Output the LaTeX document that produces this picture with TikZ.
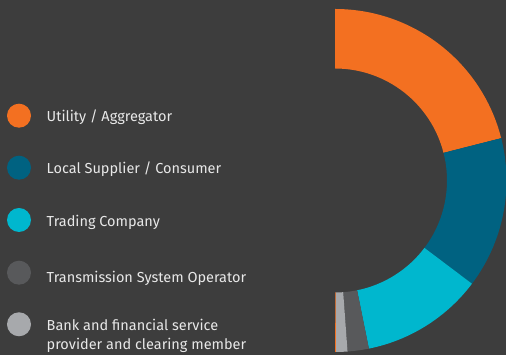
\documentclass[tikz,border=0pt]{standalone}
\usepackage{fontspec}
\setmainfont{Fira Sans}
\definecolor{bgdark}{HTML}{3D3D3D}
\definecolor{utilorange}{HTML}{F37021}
\definecolor{supplyblue}{HTML}{006281}
\definecolor{tradecyan}{HTML}{00B7CE}
\definecolor{tsogray}{HTML}{58595B}
\definecolor{banklight}{HTML}{A7A9AC}
\definecolor{labeltext}{HTML}{E8E8E8}
\tikzset{
  dot/.style={circle,minimum size=24pt,inner sep=0pt},
  lbl/.style={anchor=base west,inner sep=0pt,text=labeltext,
    font=\fontsize{14.5}{19}\selectfont}
}
\begin{document}
\begin{tikzpicture}[x=1pt,y=1pt]
        \fill[color=bgdark] (0,0) rectangle (506,355);
        \useasboundingbox (0,0) rectangle (506,355);

        % ring segments: start angle / end angle / colour
        \foreach \a/\b/\c in {90/14.3/utilorange, 14.3/-37/supplyblue,
            -37/-78.6/tradecyan, -78.6/-85.8/tsogray,
            -85.8/-89.7/banklight, -89.7/-90/utilorange}
          \fill[color=\c,shift={(335,174.5)}] (\a:171.5)
            arc[start angle=\a,end angle=\b,radius=171.5]
            -- (\b:112) arc[start angle=\b,end angle=\a,radius=112] -- cycle;

        \node[dot,fill=utilorange] (d1) at (19,239.3) {};
        \node[dot,fill=supplyblue] (d2) at (19,187.3) {};
        \node[dot,fill=tradecyan] (d3) at (19,135) {};
        \node[dot,fill=tsogray] (d4) at (19,82.3) {};
        \node[dot,fill=banklight] (d5) at (19,30.7) {};

        \node[lbl] (t1) at (46.5,233.3) {Utility / Aggregator};
        \node[lbl] (t2) at (46.5,181) {Local Supplier / Consumer};
        \node[lbl] (t3) at (46.5,128.3) {Trading Company};
        \node[lbl] (t4) at (46.5,72.7) {Transmission System Operator};
        % base of a two-line node sits on its last line
        \node[lbl,align=left] (t5) at (46.5,5) {Bank and financial service\\provider and clearing member};
    \end{tikzpicture}
\end{document}
